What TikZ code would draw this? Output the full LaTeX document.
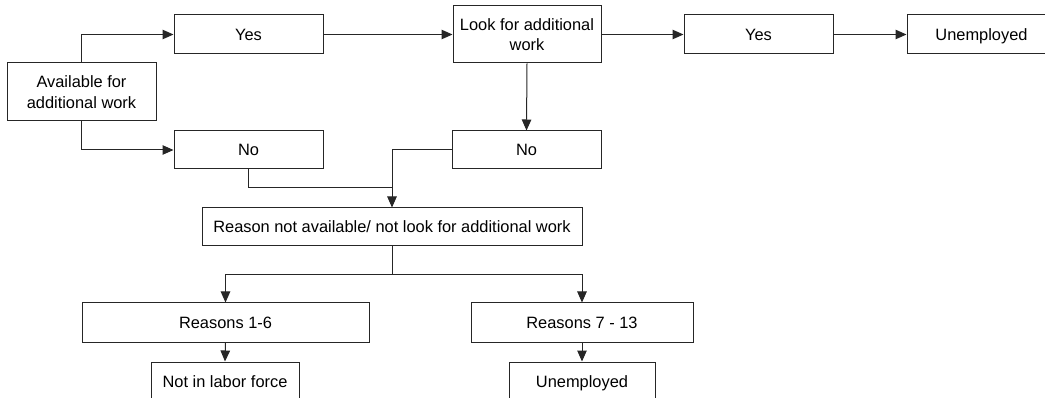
\documentclass[tikz,border=0pt]{standalone}
\usepackage{fontspec}
\setmainfont{Liberation Sans}
\usetikzlibrary{arrows.meta}
\begin{document}
\begin{tikzpicture}[x=1pt,y=1pt,
  mbox/.style={draw=black!85, line width=1pt, inner sep=0pt, align=center,
    font=\fontsize{16.4}{20.5}\selectfont, text=black},
  box/.style={mbox, text height=11.7pt, text depth=0pt},
  conn/.style={draw=black!85, line width=1pt},
  arr/.style={conn, -{Triangle[length=11pt,width=9.5pt]}}]
\useasboundingbox (0,0) rectangle (1045,-398);
% top row
\node[mbox, minimum width=149pt, minimum height=58pt] (avail) at (81.5,-92) {Available for\\additional work};
\node[box, minimum width=149pt, minimum height=39pt] (yes1) at (248.5,-34.5) {Yes};
\node[box, minimum width=149pt, minimum height=38pt] (no1) at (248.5,-150) {No};
\node[mbox, minimum width=148pt, minimum height=57pt] (look) at (527,-34.5) {Look for additional\\work};
\node[box, minimum width=149pt, minimum height=38pt] (no2) at (526.5,-150) {No};
\node[box, minimum width=149pt, minimum height=39pt] (yes2) at (758.5,-34.5) {Yes};
\node[box, minimum width=149pt, minimum height=39pt] (unemp1) at (981.5,-34.5) {Unemployed};
% middle
\node[box, minimum width=380pt, minimum height=38pt] (reason) at (392,-227) {Reason not available/ not look for additional work};
% bottom
\node[box, minimum width=287pt, minimum height=39pt] (r16) at (225.5,-322.5) {Reasons 1-6};
\node[box, minimum width=222pt, minimum height=39pt] (r713) at (582,-322.5) {Reasons 7 - 13};
\node[box, minimum width=148pt, minimum height=39pt] (nilf) at (225,-381.5) {Not in labor force};
\node[box, minimum width=146pt, minimum height=39pt] (unemp2) at (582,-381.5) {Unemployed};
% helper coordinates
\coordinate (merge) at (392,-188);
\coordinate (split) at (392,-275);
% connectors
\draw[arr] (avail.north) |- (yes1.west);
\draw[arr] (avail.south) |- (no1.west);
\draw[arr] (yes1.east) -- (look.west);
\draw[arr] (look.east) -- (yes2.west);
\draw[arr] (yes2.east) -- (unemp1.west);
\draw[arr] (look.south) -- (no2.north);
\draw[conn] (no1.south) |- (merge);
\draw[arr] (no2.west) -| (reason.north);
\draw[conn] (reason.south) -- (split);
\draw[arr] (split) -| (r16.north);
\draw[arr] (split) -| (r713.north);
\draw[arr] (r16.south) -- (nilf.north);
\draw[arr] (r713.south) -- (unemp2.north);
\end{tikzpicture}
\end{document}
